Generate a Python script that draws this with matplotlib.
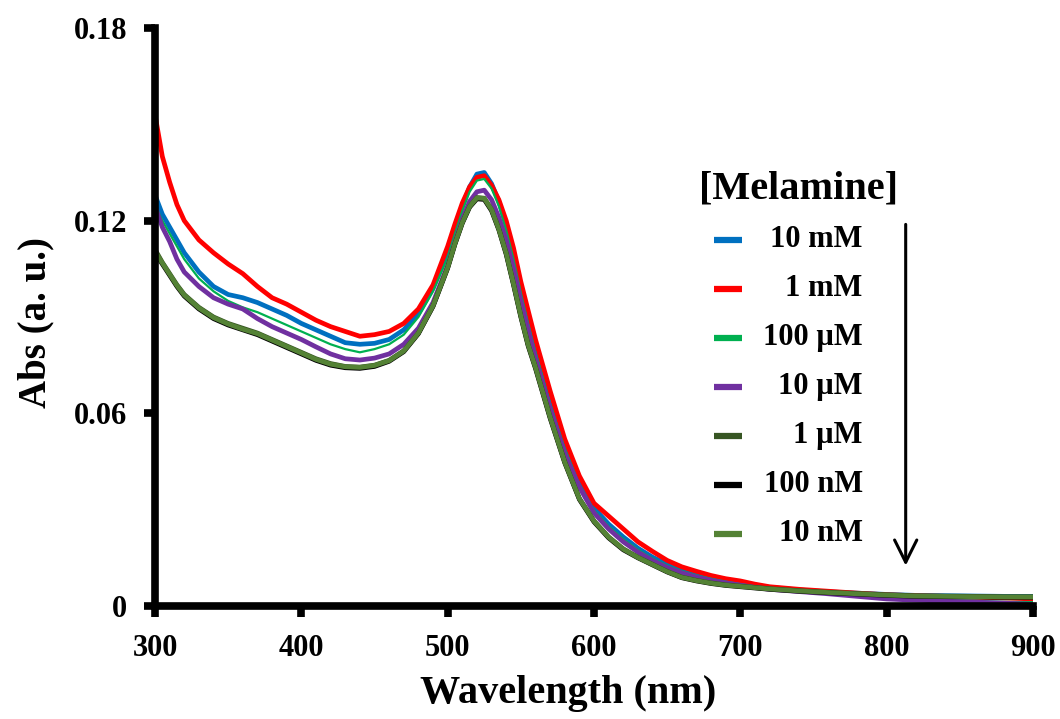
#!/usr/bin/env python3
"""UV-vis absorbance spectra of AuNPs with different melamine concentrations."""

import matplotlib
matplotlib.use("Agg")
import matplotlib.pyplot as plt

plt.rcParams["font.family"] = ["Liberation Serif", "DejaVu Serif"]
plt.rcParams["font.weight"] = "bold"

wavelength = [300, 305, 310, 315, 320, 330, 340, 350, 360, 370, 380, 390, 400,
              410, 420, 430, 440, 450, 460, 470, 480, 490, 500, 505, 510, 515,
              520, 525, 530, 535, 540, 545, 550, 555, 560, 570, 580, 590, 600,
              610, 620, 630, 640, 650, 660, 670, 680, 690, 700, 710, 720, 740,
              760, 780, 800, 820, 840, 860, 880, 900]

abs_10mM = [0.128, 0.122, 0.118, 0.114, 0.110, 0.104, 0.0995, 0.097, 0.096,
            0.0945, 0.0925, 0.0905, 0.0880, 0.0860, 0.0840, 0.0820, 0.0815,
            0.0818, 0.0830, 0.0860, 0.0910, 0.0990, 0.1100, 0.1175, 0.1245,
            0.1305, 0.1345, 0.1350, 0.1315, 0.1260, 0.1185, 0.1095, 0.0990,
            0.0895, 0.0805, 0.0645, 0.0500, 0.0385, 0.0305, 0.0255, 0.0215,
            0.0180, 0.0152, 0.0130, 0.0112, 0.0098, 0.0087, 0.0078, 0.0070,
            0.0063, 0.0058, 0.0050, 0.0044, 0.0040, 0.0036, 0.0033, 0.0032,
            0.0031, 0.0030, 0.0030]

abs_1mM = [0.153, 0.140, 0.132, 0.125, 0.120, 0.114, 0.110, 0.1065, 0.1035,
           0.0995, 0.096, 0.094, 0.0915, 0.089, 0.087, 0.0855, 0.0840, 0.0845,
           0.0855, 0.0880, 0.0925, 0.1000, 0.1120, 0.1190, 0.1255, 0.1305,
           0.1335, 0.1340, 0.1310, 0.1265, 0.1200, 0.1115, 0.1010, 0.0920,
           0.0830, 0.0670, 0.0520, 0.0405, 0.0320, 0.0280, 0.0240, 0.0200,
           0.0170, 0.0142, 0.0122, 0.0108, 0.0095, 0.0085, 0.0078, 0.0068,
           0.0060, 0.0052, 0.0046, 0.0040, 0.0035, 0.0032, 0.0030, 0.0028,
           0.0025, 0.0022]

abs_100uM = [0.125, 0.120, 0.116, 0.112, 0.108, 0.102, 0.098, 0.095, 0.093,
             0.0915, 0.0895, 0.0875, 0.0855, 0.0835, 0.0815, 0.0800, 0.0790,
             0.0800, 0.0815, 0.0845, 0.0900, 0.0980, 0.1085, 0.1160, 0.1230,
             0.1290, 0.1325, 0.1330, 0.1300, 0.1245, 0.1170, 0.1080, 0.0975,
             0.0880, 0.0790, 0.0630, 0.0490, 0.0378, 0.0298, 0.0248, 0.0208,
             0.0175, 0.0148, 0.0126, 0.0108, 0.0095, 0.0085, 0.0076, 0.0068,
             0.0061, 0.0056, 0.0048, 0.0040, 0.0032, 0.0025, 0.0020, 0.0018,
             0.0016, 0.0013, 0.0012]

abs_10uM = [0.1245, 0.118, 0.1135, 0.108, 0.104, 0.0995, 0.096, 0.094, 0.0925,
            0.0895, 0.0870, 0.0850, 0.0830, 0.0807, 0.0785, 0.0770, 0.0766,
            0.0772, 0.0785, 0.0815, 0.0865, 0.0945, 0.1060, 0.1135, 0.1205,
            0.1260, 0.1290, 0.1295, 0.1265, 0.1210, 0.1140, 0.1050, 0.0950,
            0.0860, 0.0770, 0.0615, 0.0475, 0.0370, 0.0290, 0.0240, 0.0200,
            0.0168, 0.0142, 0.0120, 0.0103, 0.0090, 0.0080, 0.0072, 0.0065,
            0.0058, 0.0052, 0.0045, 0.0038, 0.0030, 0.0022, 0.0018, 0.0015,
            0.0012, 0.0009, 0.0005]

abs_1uM = [0.111, 0.107, 0.1035, 0.100, 0.097, 0.093, 0.090, 0.0880, 0.0865,
           0.0850, 0.0830, 0.0810, 0.0790, 0.0770, 0.0755, 0.0746, 0.0744,
           0.0750, 0.0765, 0.0795, 0.0850, 0.0935, 0.1055, 0.1130, 0.1195,
           0.1245, 0.1272, 0.1270, 0.1235, 0.1175, 0.1100, 0.1005, 0.0905,
           0.0815, 0.0745, 0.0590, 0.0450, 0.0335, 0.0265, 0.0215, 0.0178,
           0.0152, 0.0130, 0.0108, 0.0090, 0.0080, 0.0072, 0.0066, 0.0062,
           0.0058, 0.0054, 0.0048, 0.0043, 0.0039, 0.0035, 0.0032, 0.0031,
           0.0030, 0.0029, 0.0029]

abs_100nM = [0.110, 0.1065, 0.1030, 0.0995, 0.0965, 0.0925, 0.0895, 0.0875,
             0.0860, 0.0845, 0.0825, 0.0805, 0.0785, 0.0765, 0.0750, 0.0742,
             0.0740, 0.0746, 0.0762, 0.0792, 0.0848, 0.0933, 0.1052, 0.1127,
             0.1192, 0.1242, 0.1268, 0.1266, 0.1231, 0.1171, 0.1095, 0.1000,
             0.0900, 0.0810, 0.0740, 0.0585, 0.0446, 0.0332, 0.0262, 0.0212,
             0.0175, 0.0150, 0.0128, 0.0106, 0.0088, 0.0078, 0.0070, 0.0064,
             0.0060, 0.0056, 0.0052, 0.0046, 0.0041, 0.0037, 0.0033, 0.0030,
             0.0029, 0.0028, 0.0027, 0.0027]

abs_10nM = [0.1105, 0.1068, 0.1033, 0.0998, 0.0968, 0.0928, 0.0898, 0.0878,
            0.0862, 0.0848, 0.0828, 0.0808, 0.0788, 0.0768, 0.0753, 0.0745,
            0.0743, 0.0749, 0.0764, 0.0794, 0.0850, 0.0935, 0.1054, 0.1129,
            0.1194, 0.1244, 0.1271, 0.1269, 0.1234, 0.1173, 0.1098, 0.1003,
            0.0903, 0.0813, 0.0743, 0.0588, 0.0448, 0.0334, 0.0264, 0.0214,
            0.0177, 0.0151, 0.0129, 0.0107, 0.0089, 0.0079, 0.0071, 0.0065,
            0.0061, 0.0057, 0.0053, 0.0047, 0.0042, 0.0038, 0.0034, 0.0031,
            0.0030, 0.0029, 0.0028, 0.0028]

labels = ["10 mM", "1 mM", "100 \u00b5M", "10 \u00b5M", "1 \u00b5M",
          "100 nM", "10 nM"]
colors = ["#0070C0", "#FF0000", "#00B050", "#7030A0", "#375623", "#000000",
          "#548235"]
widths = [3.4, 3.4, 1.6, 3.4, 3.4, 3.4, 3.4]
series = [abs_10mM, abs_1mM, abs_100uM, abs_10uM, abs_1uM, abs_100nM,
          abs_10nM]

xticks = [300, 400, 500, 600, 700, 800, 900]
yticks = [0, 0.06, 0.12, 0.18]
ytick_labels = ["0", "0.06", "0.12", "0.18"]

fig = plt.figure(figsize=(10.6, 7.19), dpi=100)
ax = fig.add_axes([155 / 1060, 1 - 606 / 719, 878 / 1060, 578 / 719])

for y, c, lw in zip(series, colors, widths):
    ax.plot(wavelength, y, color=c, linewidth=lw, solid_joinstyle="round")

ax.set_xlim(300, 900)
ax.set_ylim(0, 0.18)
ax.set_xticks(xticks)
ax.set_yticks(yticks)
ax.set_yticklabels(ytick_labels)
for side in ("top", "right"):
    ax.spines[side].set_visible(False)
for side in ("left", "bottom"):
    ax.spines[side].set_linewidth(5.5)
ax.tick_params(direction="out", length=8, width=5.5, labelsize=22)
ax.tick_params(axis="x", pad=12)
ax.tick_params(axis="y", pad=12)
for t in ax.get_xticklabels() + ax.get_yticklabels():
    t.set_fontweight("bold")

ax.set_xlabel("Wavelength (nm)", fontsize=29, fontweight="bold")
ax.xaxis.set_label_coords(0.47, -0.12)
ax.set_ylabel("Abs (a. u.)", fontsize=28, fontweight="bold")
ax.yaxis.set_label_coords(-0.115, 0.49)

# legend drawn by hand so the labels can be right-aligned
ax.text(0.733, 0.722, "[Melamine]", transform=ax.transAxes, fontsize=29,
        fontweight="bold", ha="center", va="center")
row_y = 0.634
step = 49 / 578
for i, (lab, c) in enumerate(zip(labels, colors)):
    yy = row_y - i * step
    ax.plot([0.637, 0.668], [yy, yy], transform=ax.transAxes, color=c,
            linewidth=4.5, solid_capstyle="butt", clip_on=False)
    ax.text(0.806, yy, lab, transform=ax.transAxes, fontsize=22,
            fontweight="bold", ha="right", va="center")

ax.annotate("", xy=(0.855, 0.065), xytext=(0.855, 0.665),
            xycoords="axes fraction",
            arrowprops=dict(arrowstyle="->", color="black", lw=2.2,
                            mutation_scale=40))

fig.savefig("out.png", dpi=100)
plt.close(fig)
